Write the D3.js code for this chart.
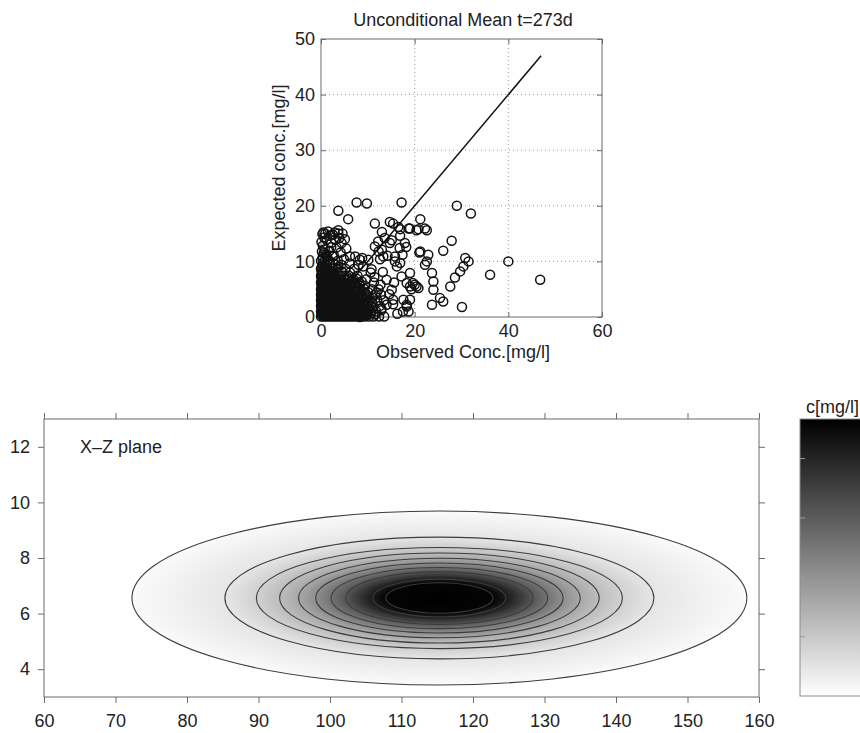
<!DOCTYPE html>
<html>
<head>
<meta charset="utf-8">
<script src="https://cdn.jsdelivr.net/npm/d3@7"></script>
<style>
  body { margin: 0; background: #fff; }
  svg text { font-family: "Liberation Sans", Arial, sans-serif; fill: #222; }
</style>
</head>
<body>
<svg id="chart" width="860" height="733"></svg>
<script>
/* ============================
 =            DATA            =
 ============================ */
// scatter: [observed, expected] concentration in mg/l
const scatterCore = [
  [0,0.1],[0.6,0.1],[1.2,0.1],[1.8,0.1],[2.4,0.1],[3,0.1],[3.6,0.1],[4.2,0.1],[4.8,0.1],[5.4,0.1],[6,0.1],[6.6,0.1],[7.2,0.1],[7.9,0.1],[8.6,0.1],[9.4,0.1],[10.3,0.1],[11.2,0.1],[12.4,0.1],[13.5,0.1],
  [0.15,0.3],[0.75,0.3],[1.35,0.3],[1.95,0.3],[2.55,0.3],[3.15,0.3],[3.75,0.3],[4.35,0.3],[4.95,0.3],[5.55,0.3],[6.15,0.3],[6.8,0.3],[7.5,0.3],[8.2,0.3],[9.6,0.3],
  [0.3,0.5],[0.9,0.5],[1.5,0.5],[2.1,0.5],[2.7,0.5],[3.3,0.5],[3.9,0.5],[4.5,0.5],[5.1,0.5],[5.7,0.5],[6.3,0.5],[6.9,0.5],[7.6,0.5],[8.3,0.5],[9,0.5],[9.9,0.5],[10.5,0.6],[11.6,0.5],
  [0.1,0.75],[0.7,0.75],[1.3,0.75],[1.9,0.75],[2.5,0.75],[3.1,0.75],[3.7,0.75],[4.3,0.75],[4.9,0.75],[5.5,0.75],[6.1,0.75],[6.8,0.75],[7.5,0.75],[8.7,0.75],
  [0,1],[0.6,1],[1.2,1],[1.8,1],[2.4,1],[3,1],[3.6,1],[4.2,1],[4.8,1],[5.4,1],[6,1],[6.7,1],[7.4,1],[8.1,1],[8.9,1],[9.8,1],[10.7,1],[11.8,1],
  [0.15,1.25],[0.75,1.25],[1.35,1.25],[1.95,1.25],[2.55,1.25],[3.15,1.25],[3.75,1.25],[4.35,1.25],[4.95,1.25],[5.55,1.25],[6.2,1.25],[6.9,1.25],[7.7,1.25],[9.3,1.2],[10.2,1.3],
  [0.3,1.5],[0.9,1.5],[1.5,1.5],[2.1,1.5],[2.7,1.5],[3.3,1.5],[3.9,1.5],[4.5,1.5],[5.1,1.5],[5.7,1.5],[6.3,1.5],[7,1.5],[7.8,1.5],[8.6,1.5],[9.5,1.5],[10.4,1.5],[12.9,1.5],
  [0.1,1.75],[0.7,1.75],[1.3,1.75],[1.9,1.75],[2.5,1.75],[3.1,1.75],[3.7,1.75],[4.3,1.75],[4.9,1.75],[5.5,1.75],[6.2,1.75],[7,1.75],[8,1.75],[11,1.8],
  [0,2],[0.6,2],[1.2,2],[1.8,2],[2.4,2],[3,2],[3.6,2],[4.2,2],[4.8,2],[5.4,2],[6.1,2],[6.8,2],[7.6,2],[8.4,2],[9.2,2],[10.1,2],[12.6,2],
  [0.15,2.25],[0.75,2.25],[1.35,2.25],[1.95,2.25],[2.55,2.25],[3.15,2.25],[3.75,2.25],[4.35,2.25],[5,2.25],[5.7,2.25],[6.4,2.25],[7.2,2.25],[9.9,2.4],
  [0.3,2.5],[0.9,2.5],[1.5,2.5],[2.1,2.5],[2.7,2.5],[3.3,2.5],[3.9,2.5],[4.5,2.5],[5.2,2.5],[5.9,2.5],[6.6,2.5],[7.4,2.5],[8.3,2.5],[9.1,2.5],[11,2.5],
  [0.1,2.75],[0.7,2.75],[1.3,2.75],[1.9,2.75],[2.5,2.75],[3.1,2.75],[3.7,2.75],[4.4,2.75],[5.1,2.75],[5.8,2.75],[6.6,2.75],[7.5,2.75],[10.8,2.8],
  [0,3],[0.6,3],[1.2,3],[1.8,3],[2.4,3],[3,3],[3.6,3],[4.3,3],[5,3],[5.7,3],[6.5,3],[7.3,3],[8.2,3],[9.3,3],[10.4,3],[12,3],[13.4,3],
  [0.15,3.25],[0.75,3.25],[1.35,3.25],[1.95,3.25],[2.6,3.25],[3.3,3.25],[4,3.25],[4.7,3.25],[5.4,3.25],[6.2,3.25],[7,3.25],[9.6,3.1],
  [0.3,3.5],[0.9,3.5],[1.5,3.5],[2.1,3.5],[2.7,3.5],[3.4,3.5],[4.1,3.5],[4.8,3.5],[5.5,3.5],[6.3,3.5],[7.1,3.5],[8,3.5],[9,3.5],[9.9,3.5],[10.9,3.5],
  [0.1,3.75],[0.7,3.75],[1.3,3.75],[1.9,3.75],[2.6,3.75],[3.3,3.75],[4,3.75],[4.8,3.75],[5.6,3.75],[6.5,3.75],[8.9,3.8],
  [0,4],[0.6,4],[1.2,4],[1.8,4],[2.5,4],[3.2,4],[3.9,4],[4.6,4],[5.4,4],[6.2,4],[7,4],[7.9,4],[8.8,4],[9.7,4],[11.6,4],[12.8,4],
  [0.15,4.25],[0.75,4.25],[1.4,4.25],[2.1,4.25],[2.8,4.25],[3.5,4.25],[4.3,4.25],[5.1,4.25],[6,4.25],[9.5,4.3],
  [0.3,4.5],[0.9,4.5],[1.5,4.5],[2.2,4.5],[2.9,4.5],[3.6,4.5],[4.3,4.5],[5.1,4.5],[5.9,4.5],[6.8,4.5],[7.7,4.5],[8.6,4.5],[10,4.5],
  [0.1,4.75],[0.7,4.75],[1.4,4.75],[2.1,4.75],[2.8,4.75],[3.6,4.75],[4.4,4.75],[5.3,4.75],
  [0,5],[0.6,5],[1.3,5],[2,5],[2.7,5],[3.4,5],[4.2,5],[5,5],[5.8,5],[6.7,5],[7.6,5],[8.5,5],[9.2,5.1],[10.9,5],[12.3,5],
  [0.15,5.3],[0.75,5.3],[1.45,5.3],[2.2,5.3],[3,5.3],[3.8,5.3],[4.7,5.3],[8,5.3],
  [0.3,5.6],[0.9,5.6],[1.6,5.6],[2.3,5.6],[3,5.6],[3.8,5.6],[4.6,5.6],[5.4,5.6],[6.3,5.6],[7.4,5.6],[8.3,5.6],[9.4,5.6],
  [0.1,5.9],[0.8,5.9],[1.5,5.9],[2.2,5.9],[3,5.9],[3.9,5.9],[7.2,5.9],
  [0,6.2],[0.6,6.2],[1.3,6.2],[2,6.2],[2.8,6.2],[3.6,6.2],[4.4,6.2],[5.3,6.2],[6.4,6.2],[7.3,6.2],[8.2,6.2],[8.7,6.4],[11.3,6.2],
  [0.15,6.5],[0.8,6.5],[1.5,6.5],[2.3,6.5],[3.1,6.5],[6.6,6.6],
  [0.3,6.8],[1,6.8],[1.7,6.8],[2.5,6.8],[3.3,6.8],[4.2,6.8],[5.1,6.8],[6,6.8],[6.9,6.8],[7.6,6.9],[9.7,6.8],
  [0.1,7.1],[0.8,7.1],[1.6,7.1],[2.5,7.1],[5.6,7.2],
  [0,7.4],[0.7,7.4],[1.4,7.4],[2.2,7.4],[3,7.4],[3.9,7.4],[4.9,7.4],[5.9,7.4],[7.8,7.4],
  [0.15,7.7],[0.9,7.7],[1.7,7.7],
  [0.3,8],[1,8],[1.8,8],[2.6,8],[3.5,8],[4.4,8.2],[4.6,8],[6.2,8],[10.6,8],
  [0.1,8.35],[0.9,8.35],[1.9,8.35],
  [0,8.7],[0.7,8.7],[1.5,8.7],[2.4,8.7],[3.4,8.7],[5.2,8.7],[7.1,8.7],
  [0.2,9],[1,9],[3.7,9],
  [0.3,9.4],[1.1,9.4],[2,9.4],[3,9.4],[4.3,9.4],[8,9.4],
  [2.6,9.7],[0,10.1],[0.8,10.1],[1.8,10.1],[3.6,10.1],
  [0.4,10.9],[1.3,10.9],[2.5,10.9]
];
const scatterSparse = [
  [7.6,20.6],[9.8,20.4],[17.2,20.6],[29,20],[32,18.6],[3.7,19.1],[5.8,17.6],[11.5,16.8],[14.7,17.1],[21.2,17.6],
  [22.6,15.6],[20.8,15.8],[18.7,15.9],[16.9,15.8],[15.4,16.8],[16.5,16.2],[13,15.3],[15.1,13.8],[17.9,13.3],[27.9,13.7],
  [26.1,11.9],[21,11.6],[22.9,11.2],[22.2,9.4],[30.8,10.6],[31.5,10],[30.4,9.1],[29.7,8.2],[28.6,7.1],[27.6,5.5],
  [23.7,7.9],[24,6.4],[24,4.9],[25.4,3.4],[23.7,2.2],[30.1,1.8],[40,10],[36.1,7.6],[46.8,6.7],[19,7.9],
  [19,5.5],[20.4,5.5],[19.3,5],[20,5.8],[19.6,6.1],[20.8,5.2],[17.6,3.1],[18.3,1.9],[18.7,1],[15.8,10],
  [15.1,4.9],[15.4,2.3],[0.9,15],[3.7,15],[3,13.9],[4.4,13.3],[19,15.9],[20.4,15.6],[22.2,15.9],[11.5,12.7],
  [13,12.1],[14.7,13.3],[15.8,10.9],[16.2,9.1],[21.2,11.8],[22.6,10],[7.3,10.9],[10.1,10.3],[9,9.1],[8.8,10.6],
  [14,6.7],[14,2.2],[18.3,2.2],[8.3,0],[26.1,2.8],[12.3,11.8],[12.2,13.6],[13.6,14.2],[14.2,11],[12.6,10.4],
  [16.8,12.4],[17.4,11.2],[18.2,12.6],[16.9,14.6],[0.5,15.2],[1.5,15.4],[2.5,14.8],[3.7,15.6],[1.2,13.9],[2.2,13.3],
  [0.4,12.8],[3.3,12.5],[0.6,11.5],[1.8,11.9],[2.8,11],[4.2,11.6],[0.3,10.5],[1.5,10.2],[5.4,12.3],[4.9,10.4],
  [6.1,9.6],[18.3,6.1],[19,3.1],[15.4,3.1],[17.5,1],[13.3,10.9],[16.9,9.7],[6.2,10.9],[8.3,10.3],
  [11.4,7.2],[12.7,5.8],[10.8,8.6],[13.2,8.1],[11.9,4.4],[14.6,4.1],[12.9,1.2],[16.3,0.6],[15.6,6.2],[17.2,7.3],
  [0.2,11.8],[0.8,12.2],[0.1,13.5],[0.7,14.3],[1.9,14.6],[0.3,14.9],[2.9,15.2],[1,11],[2.2,12.6],[3.9,14.2],
  [4.6,15],[5.1,14]
];
const fitLine = [0, 47];
const obsTicks = [0, 20, 40, 60];
const expTicks = [0, 10, 20, 30, 40, 50];

// plume in the X-Z plane: contour levels and their half extents
const plumeCenter = [115.3, 6.56];
const peakConc = 14;
const contourLevels = [0.3, 1.4, 2.5, 3.6, 4.8, 6.2, 7.7, 9.3, 11, 12.6, 13.8];
const contourHalfX = [43, 30, 25.6, 22.35, 19.7, 17.3, 15.15, 13.1, 11.25, 9.3, 7.5];
const contourHalfZ = [3.13, 2.19, 1.82, 1.62, 1.43, 1.26, 1.1, 0.95, 0.82, 0.68, 0.55];
const xTicks = [60, 70, 80, 90, 100, 110, 120, 130, 140, 150, 160];
const zTicks = [4, 6, 8, 10, 12];
const colorbarTicks = [3, 6, 9, 12];

/* ============================
 =           DRAW             =
 ============================ */
const FONT = 18;
const AXIS_COLOR = '#6a6a6a';
const svg = d3.select('#chart');
const defs = svg.append('defs');

const styleAxis = (g) => {
  g.attr('font-size', FONT).attr('font-family', '"Liberation Sans", Arial, sans-serif');
  g.select('.domain').remove();
  g.selectAll('.tick line').attr('stroke', AXIS_COLOR);
  g.selectAll('.tick text').attr('fill', '#222');
};

// ---------- scatter ----------
const sx = d3.scaleLinear().domain([0, 60]).range([321, 602]);
const sy = d3.scaleLinear().domain([0, 50]).range([317, 39]);
const scat = svg.append('g');

scat.append('g').selectAll('line')
  .data(obsTicks.slice(1, -1))
  .join('line')
  .attr('x1', d => sx(d)).attr('x2', d => sx(d))
  .attr('y1', sy(0)).attr('y2', sy(50))
  .attr('stroke', '#9a9a9a').attr('stroke-dasharray', '1,3');
scat.append('g').selectAll('line')
  .data(expTicks.slice(1, -1))
  .join('line')
  .attr('x1', sx(0)).attr('x2', sx(60))
  .attr('y1', d => sy(d)).attr('y2', d => sy(d))
  .attr('stroke', '#9a9a9a').attr('stroke-dasharray', '1,3');

scat.append('g').call(d3.axisBottom(sx).tickValues(obsTicks).tickSize(-5).tickPadding(7))
  .attr('transform', `translate(0,${sy(0)})`).call(styleAxis);
scat.append('g').call(d3.axisTop(sx).tickValues(obsTicks).tickSize(-5).tickFormat(''))
  .attr('transform', `translate(0,${sy(50)})`).call(styleAxis);
scat.append('g').call(d3.axisLeft(sy).tickValues(expTicks).tickSize(-5).tickPadding(6))
  .attr('transform', `translate(${sx(0)},0)`).call(styleAxis);
scat.append('g').call(d3.axisRight(sy).tickValues(expTicks).tickSize(-5).tickFormat(''))
  .attr('transform', `translate(${sx(60)},0)`).call(styleAxis);

scat.append('rect')
  .attr('x', sx(0)).attr('y', sy(50))
  .attr('width', sx(60) - sx(0)).attr('height', sy(0) - sy(50))
  .attr('fill', 'none').attr('stroke', AXIS_COLOR);

scat.append('g').selectAll('circle')
  .data(scatterCore.concat(scatterSparse))
  .join('circle')
  .attr('cx', d => sx(d[0])).attr('cy', d => sy(d[1]))
  .attr('r', 4.5)
  .attr('fill', 'none').attr('stroke', '#111').attr('stroke-width', 1.5);

scat.append('line')
  .attr('x1', sx(fitLine[0])).attr('y1', sy(fitLine[0]))
  .attr('x2', sx(fitLine[1])).attr('y2', sy(fitLine[1]))
  .attr('stroke', '#111').attr('stroke-width', 1.5);

scat.append('text').attr('x', 463).attr('y', 26).attr('text-anchor', 'middle')
  .attr('font-size', FONT).text('Unconditional Mean t=273d');
scat.append('text').attr('x', 463).attr('y', 358).attr('text-anchor', 'middle')
  .attr('font-size', FONT).text('Observed Conc.[mg/l]');
scat.append('text').attr('transform', 'translate(285,168) rotate(-90)').attr('text-anchor', 'middle')
  .attr('font-size', FONT).text('Expected conc.[mg/l]');

// ---------- plume ----------
const bx = d3.scaleLinear().domain([60, 160]).range([44, 759]);
const bz = d3.scaleLinear().domain([3, 13]).range([697, 419]);
const grey = d3.scaleLinear().domain([0, peakConc]).range(['#ffffff', '#000000']).clamp(true);
const plume = svg.append('g');

const rg = defs.append('radialGradient').attr('id', 'plumeFill');
rg.append('stop').attr('offset', 0).attr('stop-color', grey(peakConc));
d3.range(contourLevels.length - 1, -1, -1).forEach(i => {
  rg.append('stop')
    .attr('offset', contourHalfX[i] / contourHalfX[0])
    .attr('stop-color', grey(contourLevels[i]));
});

const cx = bx(plumeCenter[0]);
const cz = bz(plumeCenter[1]);
const rxOf = h => bx(plumeCenter[0] + h) - cx;
const rzOf = h => cz - bz(plumeCenter[1] + h);

plume.append('ellipse')
  .attr('cx', cx).attr('cy', cz)
  .attr('rx', rxOf(contourHalfX[0])).attr('ry', rzOf(contourHalfZ[0]))
  .attr('fill', 'url(#plumeFill)');

plume.append('g').selectAll('ellipse')
  .data(contourLevels.map((lv, i) => ({ lv, hx: contourHalfX[i], hz: contourHalfZ[i] })))
  .join('ellipse')
  .attr('cx', cx).attr('cy', cz)
  .attr('rx', d => rxOf(d.hx)).attr('ry', d => rzOf(d.hz))
  .attr('fill', 'none').attr('stroke', '#3c3c3c').attr('stroke-width', 1.1);

plume.append('g').call(d3.axisBottom(bx).tickValues(xTicks).tickSize(6).tickPadding(11))
  .attr('transform', `translate(0,${bz(3)})`).call(styleAxis);
plume.append('g').call(d3.axisTop(bx).tickValues(xTicks).tickSize(6).tickFormat(''))
  .attr('transform', `translate(0,${bz(13)})`).call(styleAxis);
plume.append('g').call(d3.axisLeft(bz).tickValues(zTicks).tickSize(6).tickPadding(8))
  .attr('transform', `translate(${bx(60)},0)`).call(styleAxis);
plume.append('g').call(d3.axisRight(bz).tickValues(zTicks).tickSize(6).tickFormat(''))
  .attr('transform', `translate(${bx(160)},0)`).call(styleAxis);

plume.append('rect')
  .attr('x', bx(60)).attr('y', bz(13))
  .attr('width', bx(160) - bx(60)).attr('height', bz(3) - bz(13))
  .attr('fill', 'none').attr('stroke', AXIS_COLOR);

plume.append('text').attr('x', 80).attr('y', 453).attr('font-size', FONT).text('X–Z plane');

// ---------- colorbar ----------
const cb = d3.scaleLinear().domain([0, peakConc]).range([696, 419]);
const lg = defs.append('linearGradient').attr('id', 'cbFill')
  .attr('x1', 0).attr('y1', 1).attr('x2', 0).attr('y2', 0);
[0, 0.25, 0.5, 0.75, 1].forEach(f => {
  lg.append('stop').attr('offset', f).attr('stop-color', grey(f * peakConc));
});
const bar = svg.append('g');
bar.append('rect')
  .attr('x', 800).attr('y', cb(peakConc))
  .attr('width', 80).attr('height', cb(0) - cb(peakConc))
  .attr('fill', 'url(#cbFill)').attr('stroke', '#8a8a8a');
bar.append('g').selectAll('line')
  .data(colorbarTicks)
  .join('line')
  .attr('x1', 800).attr('x2', 805)
  .attr('y1', d => cb(d)).attr('y2', d => cb(d))
  .attr('stroke', '#9a9a9a');
bar.append('text').attr('x', 806).attr('y', 413).attr('font-size', FONT).text('c[mg/l]');
</script>
</body>
</html>
